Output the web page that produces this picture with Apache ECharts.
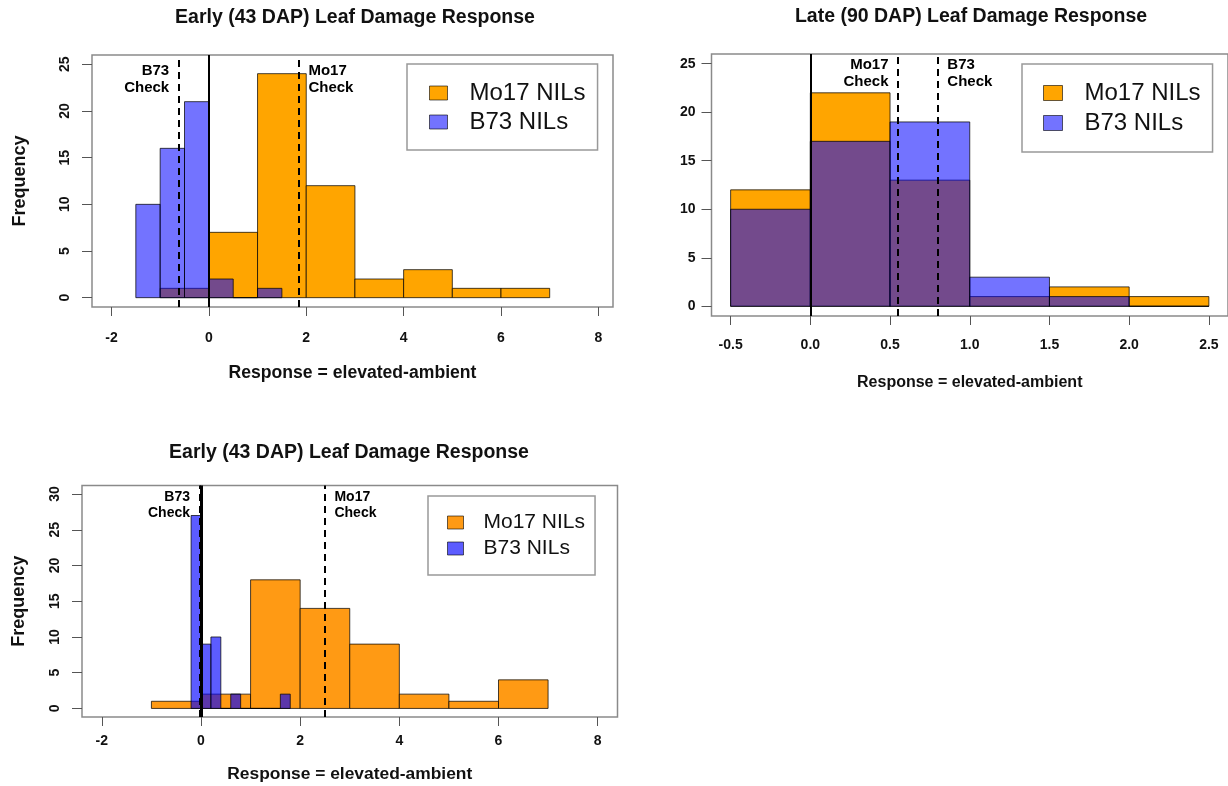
<!DOCTYPE html>
<html><head><meta charset="utf-8">
<script src="https://cdn.jsdelivr.net/npm/echarts@6/dist/echarts.min.js"></script>
<style>html,body{margin:0;padding:0;background:#fff}#c{width:1228px;height:786px}</style>
</head><body><div id="c"></div>
<script>
// ---------- DATA ----------
// Panel A: Early (43 DAP), top-left
const aMo17Start = [-1, 0, 1, 2, 3, 4, 5, 6];
const aMo17Count = [1, 7, 24, 12, 2, 3, 1, 1];
const aMo17Width = 1;
const aB73Start = [-1.5, -1, -0.5, 0, 0.5, 1];
const aB73Count = [10, 16, 21, 2, 0, 1];
const aB73Width = 0.5;
const aCheckNames = ['B73', 'Mo17'];
const aCheckX = [-0.62, 1.85];

// Panel B: Late (90 DAP), top-right
const bMo17Start = [-0.5, 0, 0.5, 1, 1.5, 2];
const bMo17Count = [12, 22, 13, 1, 2, 1];
const bMo17Width = 0.5;
const bB73Start = [-0.5, 0, 0.5, 1, 1.5, 2];
const bB73Count = [10, 17, 19, 3, 1, 0];
const bB73Width = 0.5;
const bCheckNames = ['Mo17', 'B73'];
const bCheckX = [0.55, 0.80];

// Panel C: Early (43 DAP), bottom-left
const cMo17Start = [-1, 0, 1, 2, 3, 4, 5, 6];
const cMo17Count = [1, 2, 18, 14, 9, 2, 1, 4];
const cMo17Width = 1;
const cB73Start = [-0.2, 0, 0.2, 0.4, 0.6, 0.8, 1.0, 1.2, 1.4, 1.6];
const cB73Count = [27, 9, 10, 0, 2, 0, 0, 0, 0, 2];
const cB73Width = 0.2;
const cCheckNames = ['B73', 'Mo17'];
const cCheckX = [-0.03, 2.5];

// Tick values
const xTicksA = [-2, 0, 2, 4, 6, 8];
const yTicksA = [0, 5, 10, 15, 20, 25];
const xTicksB = [-0.5, 0, 0.5, 1, 1.5, 2, 2.5];
const yTicksB = [0, 5, 10, 15, 20, 25];
const xTicksC = [-2, 0, 2, 4, 6, 8];
const yTicksC = [0, 5, 10, 15, 20, 25, 30];

const titles = ['Early (43 DAP) Leaf Damage Response', 'Late (90 DAP) Leaf Damage Response', 'Early (43 DAP) Leaf Damage Response'];
const xName = 'Response = elevated-ambient';
const yName = 'Frequency';
const seriesNames = ['Mo17 NILs', 'B73 NILs'];

// ---------- CHART ----------
const FONT = '"Liberation Sans", Arial, Helvetica, sans-serif';
function bins(starts, counts, w) { return starts.map((s, i) => [s, s + w, counts[i]]); }
function renderHist(params, api) {
  const p0 = api.coord([api.value(0), api.value(2)]);
  const p1 = api.coord([api.value(1), 0]);
  return { type: 'rect', shape: { x: p0[0], y: p0[1], width: p1[0] - p0[0], height: p1[1] - p0[1] },
    style: { fill: api.visual('color'), stroke: 'rgba(0,0,0,0.72)', lineWidth: 1 } };
}
const ORANGE_AB = '#FFA500', BLUE_AB = 'rgba(0,0,255,0.55)';
const ORANGE_C = '#FF9A14', BLUE_C = 'rgba(0,0,255,0.64)';

function histSeries(idx, name, data, color) {
  return { type: 'custom', name: name, xAxisIndex: idx, yAxisIndex: idx, renderItem: renderHist,
    encode: { x: [0, 1], y: 2 }, data: data, itemStyle: { color: color }, z: 2, silent: true };
}
function checkSeries(idx, names, xs, labelY, fontSize, positions, solidWidth) {
  return {
    type: 'scatter', name: 'checks' + idx, xAxisIndex: idx, yAxisIndex: idx, silent: true, z: 5,
    symbolSize: 1, itemStyle: { color: 'transparent', opacity: 1 },
    data: names.map((n, i) => ({ name: n, value: [xs[i], labelY],
      label: { show: true, position: positions[i], distance: 9 } })),
    label: { formatter: p => p.name + '\nCheck', fontFamily: FONT, fontWeight: 'bold', fontSize: fontSize,
      lineHeight: fontSize + 2, color: '#000', opacity: 1 },
    markLine: { silent: true, symbol: ['none', 'none'], label: { show: false }, animation: false,
      data: [{ xAxis: 0, lineStyle: { type: 'solid', width: solidWidth, color: '#000' } }]
        .concat(xs.map(x => ({ xAxis: x, lineStyle: { type: [7, 5], width: 2, color: '#000' } }))) }
  };
}
function xAxisCfg(idx, min, max, ticks, margin, nameGap, nameSize, fmt) {
  return { gridIndex: idx, type: 'value', min: min, max: max, splitLine: { show: false },
    axisLine: { show: false, onZero: false },
    axisTick: { show: true, length: 9, customValues: ticks, lineStyle: { color: '#555', width: 1 } },
    axisLabel: { customValues: ticks, margin: margin, fontFamily: FONT, fontWeight: 'bold', fontSize: 14, color: '#111',
      formatter: fmt || (v => String(v)) },
    name: xName, nameLocation: 'middle', nameGap: nameGap,
    nameTextStyle: { fontFamily: FONT, fontWeight: 'bold', fontSize: nameSize, color: '#111' } };
}
function yAxisCfg(idx, min, max, ticks, rotate, margin, showName, nameGap) {
  const c = { gridIndex: idx, type: 'value', min: min, max: max, splitLine: { show: false },
    axisLine: { show: false, onZero: false },
    axisTick: { show: true, length: 10, customValues: ticks, lineStyle: { color: '#555', width: 1 } },
    axisLabel: { customValues: ticks, rotate: rotate, margin: margin, fontFamily: FONT, fontWeight: 'bold', fontSize: 14, color: '#111' } };
  if (showName) {
    c.name = yName; c.nameLocation = 'middle'; c.nameGap = nameGap;
    c.nameTextStyle = { fontFamily: FONT, fontWeight: 'bold', fontSize: 18, color: '#111' };
  }
  return c;
}
function legendCfg(left, top, fontSize, pad, iw, ih, gap, textPad, colors) {
  return { orient: 'vertical', left: left, top: top, padding: pad, itemGap: gap, itemWidth: iw, itemHeight: ih,
    borderColor: '#999', borderWidth: 1.5, backgroundColor: '#fff', icon: 'rect', selectedMode: false,
    itemStyle: { borderColor: 'rgba(0,0,0,0.6)', borderWidth: 1 },
    textStyle: { fontFamily: FONT, fontSize: fontSize, color: '#111', lineHeight: fontSize, padding: [0, 0, 0, textPad] },
    data: seriesNames.map((n, i) => ({ name: n, itemStyle: { color: colors[i] } })) };
}
const titleStyle = { fontFamily: FONT, fontWeight: 'bold', fontSize: 19.5, color: '#111' };

const chart = echarts.init(document.getElementById('c'), null, { renderer: 'canvas' });
chart.setOption({
  animation: false,
  backgroundColor: '#fff',
  title: [
    { text: titles[0], left: 355, top: 8, textAlign: 'center', padding: 0, textStyle: titleStyle },
    { text: titles[1], left: 971, top: 7, textAlign: 'center', padding: 0, textStyle: titleStyle },
    { text: titles[2], left: 349, top: 443, textAlign: 'center', padding: 0, textStyle: titleStyle }
  ],
  grid: [
    { left: 92, top: 55, width: 521, height: 252, show: true, borderColor: '#8a8a8a', borderWidth: 1.5, backgroundColor: 'transparent' },
    { left: 711.5, top: 54, width: 520, height: 262, show: true, borderColor: '#8a8a8a', borderWidth: 1.5, backgroundColor: 'transparent' },
    { left: 82, top: 485.5, width: 535.5, height: 231.5, show: true, borderColor: '#8a8a8a', borderWidth: 1.5, backgroundColor: 'transparent' }
  ],
  xAxis: [
    xAxisCfg(0, -2.4, 8.3, xTicksA, 24, 57, 17.6),
    xAxisCfg(1, -0.62, 2.62, xTicksB, 22, 59, 16, v => v.toFixed(1)),
    xAxisCfg(2, -2.4, 8.4, xTicksC, 17, 49, 17.4)
  ],
  yAxis: [
    yAxisCfg(0, -1, 26, yTicksA, 90, 20, true, 63),
    yAxisCfg(1, -1, 26, yTicksB, 0, 16, false, 0),
    yAxisCfg(2, -1.2, 31.2, yTicksC, 90, 20, true, 54)
  ],
  legend: [
    legendCfg(407, 64, 24, [17, 12, 16, 22], 18, 14, 5, 17, [ORANGE_AB, BLUE_AB]),
    legendCfg(1022, 64, 24, [17, 12, 17, 21], 19, 15, 6, 17, [ORANGE_AB, BLUE_AB]),
    legendCfg(428, 496, 21, [16, 10, 16, 19], 16, 13, 5, 15, [ORANGE_C, BLUE_C])
  ],
  series: [
    histSeries(0, seriesNames[0], bins(aMo17Start, aMo17Count, aMo17Width), ORANGE_AB),
    histSeries(0, seriesNames[1], bins(aB73Start, aB73Count, aB73Width), BLUE_AB),
    checkSeries(0, aCheckNames, aCheckX, 23.4, 15, ['left', 'right'], 2),
    histSeries(1, seriesNames[0], bins(bMo17Start, bMo17Count, bMo17Width), ORANGE_AB),
    histSeries(1, seriesNames[1], bins(bB73Start, bB73Count, bB73Width), BLUE_AB),
    checkSeries(1, bCheckNames, bCheckX, 24.0, 15, ['left', 'right'], 2),
    histSeries(2, seriesNames[0], bins(cMo17Start, cMo17Count, cMo17Width), ORANGE_C),
    histSeries(2, seriesNames[1], bins(cB73Start, cB73Count, cB73Width), BLUE_C),
    checkSeries(2, cCheckNames, cCheckX, 28.5, 14, ['left', 'right'], 3)
  ]
});
</script>
</body></html>
